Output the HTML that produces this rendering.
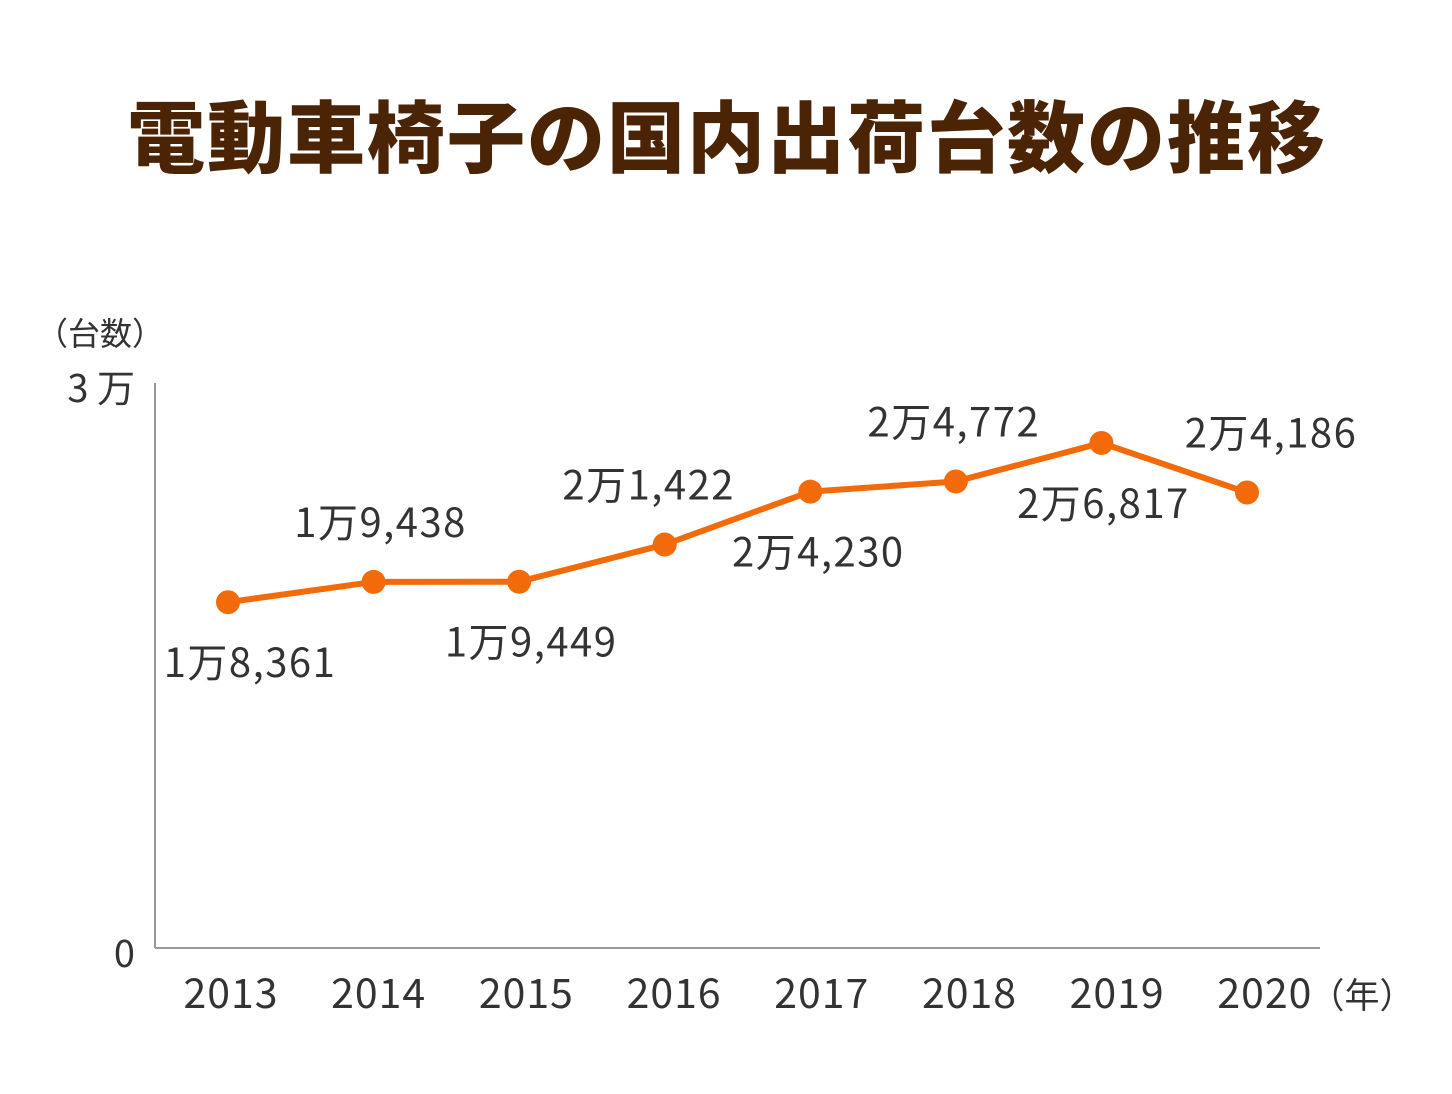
<!DOCTYPE html>
<html><head><meta charset="utf-8">
<style>
body{margin:0;background:#fff;width:1452px;height:1089px;overflow:hidden}
svg text{font-family:"Noto Sans CJK JP","Liberation Sans",sans-serif}
</style></head>
<body>
<svg id="chart" width="1452" height="1089" viewBox="0 0 1452 1089" xmlns="http://www.w3.org/2000/svg">
<text x="727" y="166" text-anchor="middle" font-size="78" fill="#4b2305" letter-spacing="2" style="font-family:'Noto Sans CJK JP',sans-serif;font-weight:900">電動車椅子の国内出荷台数の推移</text>
<text x="100" y="345" text-anchor="middle" font-size="32" fill="#333">（台数）</text>
<text x="1362" y="1008" text-anchor="middle" font-size="35" fill="#333">（年）</text>
<line x1="155" y1="383" x2="155" y2="948" stroke="#999" stroke-width="2"/>
<line x1="155" y1="948" x2="1320" y2="948" stroke="#999" stroke-width="2"/>
<g id="ticks"></g><g id="series"></g><g id="labels"></g>
</svg>
<script>
const categories=["2013","2014","2015","2016","2017","2018","2019","2020"];
const values=[18361,19438,19449,21422,24230,24772,26817,24186];
const yTickValues=[0,30000];
const yTickLabels=["0","3 万"];
const labelAbove=[false,true,false,true,false,true,false,true];
const labelDx=[22,7,12,-16,8,-2,2,24];
const NS="http://www.w3.org/2000/svg";
const x0=228,x1=1247,yBase=948,yTop=383,yMax=30000;
function xs(i){return x0+i*(x1-x0)/(categories.length-1);}
function ys(v){return yBase-v/yMax*(yBase-yTop);}
function mk(tag,attrs,parent){const e=document.createElementNS(NS,tag);for(const k in attrs)e.setAttribute(k,attrs[k]);parent.appendChild(e);return e;}
const ticks=document.getElementById('ticks'),series=document.getElementById('series'),labels=document.getElementById('labels');
yTickValues.forEach((v,i)=>{const t=mk('text',{x:135,y:ys(v)+19,'text-anchor':'end','font-size':38,fill:'#333'},ticks);t.textContent=yTickLabels[i];

});
categories.forEach((c,i)=>{const t=mk('text',{x:231+i*147.7,y:1008,'text-anchor':'middle','font-size':41,'letter-spacing':1,fill:'#333'},ticks);t.textContent=c;

});
const pts=values.map((v,i)=>xs(i)+','+ys(v)).join(' ');
const line=mk('polyline',{points:pts,fill:'none',stroke:'#f26a0a','stroke-width':6,'stroke-linejoin':'round'},series);


function fmt(v){const m=Math.floor(v/10000),r=v%10000;return m+'万'+Math.floor(r/1000)+','+String(r%1000).padStart(3,'0');}
values.forEach((v,i)=>{const c=mk('circle',{cx:xs(i),cy:ys(v),r:12,fill:'#f26a0a'},series);


const above=labelAbove[i];
const t=mk('text',{x:xs(i)+labelDx[i],y:ys(v)+(above?-45:75),'text-anchor':'middle','font-size':40,'letter-spacing':1.5,fill:'#333'},labels);
t.textContent=fmt(v);

});
</script>
</body></html>
